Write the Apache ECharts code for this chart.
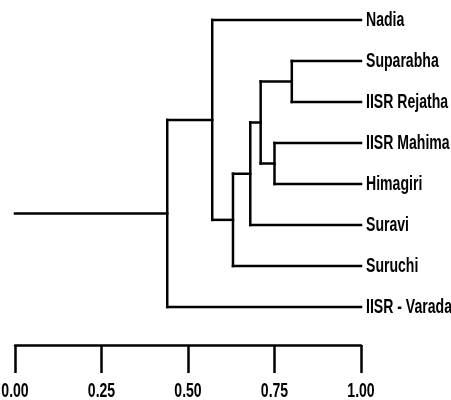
<!DOCTYPE html>
<html>
<head>
<meta charset="utf-8">
<script src="https://cdn.jsdelivr.net/npm/echarts@6/dist/echarts.min.js"></script>
<style>html,body{margin:0;padding:0;background:#fff}#c{width:451px;height:400px}</style>
</head>
<body>
<div id="c"></div>
<script>
// Leaves in display order (top to bottom)
const leaves = ['Nadia', 'Suparabha', 'IISR Rejatha', 'IISR Mahima', 'Himagiri', 'Suravi', 'Suruchi', 'IISR - Varada'];
// Merges: left child, right child, similarity level (children are leaf names or merge ids)
const mergeIds    = ['E', 'F', 'D', 'C', 'B', 'A', 'R'];
const mergeLeft   = ['Suparabha', 'IISR Mahima', 'E', 'D', 'C', 'Nadia', 'A'];
const mergeRight  = ['IISR Rejatha', 'Himagiri', 'F', 'Suravi', 'Suruchi', 'B', 'IISR - Varada'];
const mergeLevel  = [0.80, 0.75, 0.71, 0.68, 0.63, 0.57, 0.44];
const rootStart   = 0;
const tickValues  = [0, 0.25, 0.5, 0.75, 1];
const tickLabels  = ['0.00', '0.25', '0.50', '0.75', '1.00'];

// Build segments from the linkage
const nodeX = {}, nodeY = {};
leaves.forEach((l, i) => { nodeX[l] = 1; nodeY[l] = i; });
const segs = [];
mergeIds.forEach((id, k) => {
  const a = mergeLeft[k], b = mergeRight[k], h = mergeLevel[k];
  segs.push([nodeX[a], nodeY[a], h, nodeY[a]]);
  segs.push([h, nodeY[a], h, nodeY[b]]);
  segs.push([h, nodeY[b], nodeX[b], nodeY[b]]);
  nodeX[id] = h; nodeY[id] = (nodeY[a] + nodeY[b]) / 2;
});
const root = mergeIds[mergeIds.length - 1];
segs.push([rootStart, nodeY[root], nodeX[root], nodeY[root]]);

const FONT = "'Liberation Sans', Arial, sans-serif";
const TEXT_STYLE = {fill: '#000', fontFamily: FONT, fontWeight: 'bold', fontSize: 21};
const SX = 0.67; // horizontal condensing of the label glyphs

const chart = echarts.init(document.getElementById('c'), null, {renderer: 'canvas'});
chart.setOption({
  animation: false,
  backgroundColor: '#fff',
  grid: [
    {left: 15, right: 90, top: 20, height: 287, outerBoundsMode: 'none', containLabel: false},
    {left: 15, right: 90, top: 344, height: 1, outerBoundsMode: 'none', containLabel: false}
  ],
  xAxis: [
    {gridIndex: 0, type: 'value', min: 0, max: 1, show: false},
    {gridIndex: 1, type: 'value', min: 0, max: 1, interval: 0.25, position: 'bottom',
     axisLine: {show: true, onZero: false, lineStyle: {color: '#000', width: 2.5}},
     axisTick: {show: true, length: 28, lineStyle: {color: '#000', width: 2.5}},
     splitLine: {show: false},
     axisLabel: {show: false}}
  ],
  yAxis: [
    {gridIndex: 0, type: 'value', min: 0, max: leaves.length - 1, inverse: true, show: false},
    {gridIndex: 1, type: 'value', min: 0, max: 1, show: false}
  ],
  series: [{
    type: 'custom',
    xAxisIndex: 0, yAxisIndex: 0,
    data: segs,
    renderItem: (params, api) => {
      const p1 = api.coord([api.value(0), api.value(1)]);
      const p2 = api.coord([api.value(2), api.value(3)]);
      return {type: 'line', shape: {x1: p1[0], y1: p1[1], x2: p2[0], y2: p2[1]},
        style: {stroke: '#000', lineWidth: 2.5, lineCap: 'square'}};
    }
  }, {
    type: 'custom',
    xAxisIndex: 0, yAxisIndex: 0,
    data: leaves.map((l, i) => [1, i, l]),
    renderItem: (params, api) => {
      const p = api.coord([api.value(0), api.value(1)]);
      return {type: 'text', x: p[0] + 5, y: p[1], scaleX: SX,
        style: Object.assign({text: leaves[params.dataIndex], align: 'left', verticalAlign: 'middle'}, TEXT_STYLE)};
    }
  }, {
    type: 'custom',
    xAxisIndex: 1, yAxisIndex: 1,
    data: tickValues.map(v => [v, 0]),
    renderItem: (params, api) => {
      const p = api.coord([api.value(0), api.value(1)]);
      return {type: 'text', x: p[0], y: p[1] + 46, scaleX: SX,
        style: Object.assign({text: tickLabels[params.dataIndex], align: 'center', verticalAlign: 'middle'}, TEXT_STYLE)};
    }
  }]
});
</script>
</body>
</html>
